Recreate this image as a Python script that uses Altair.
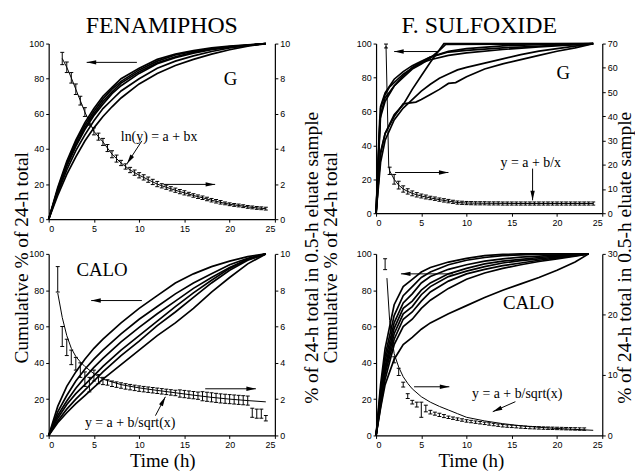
import math
import altair as alt
import pandas as pd

SERIF = "Liberation Serif"
SANS = "Liberation Sans"
HEAD = "M0,0L-0.55,2.4L0.55,2.4Z"

# ---------------- FENAMIPHOS, G (top left) ----------------
TL_X = [0, 1, 2, 3, 4, 5, 6, 7, 8, 10, 12, 14, 16, 18, 20, 22, 24]
TL_CURVES = [
    [0, 18, 33, 45, 55, 63, 70, 75, 80, 86, 91, 94, 96, 97.5, 98.5, 99.3, 100],
    [0, 17, 32, 44, 53.5, 61.5, 68.5, 74, 78.5, 85, 90, 93.5, 95.5, 97, 98.3, 99.2, 100],
    [0, 16.5, 31, 42.5, 52, 60, 67, 72.5, 77.5, 84, 89, 92.5, 95, 97, 98, 99, 100],
    [0, 16, 30, 41.5, 51, 59, 65.5, 71.5, 76, 83, 88.5, 92, 94.5, 96.5, 98, 99, 100],
    [0, 15, 28, 39, 48, 56, 63, 68, 73, 80, 86, 90, 93, 95.5, 97.5, 99, 100],
    [0, 13.5, 25.5, 35.5, 44.5, 52, 58.5, 64, 69, 77, 83, 87.5, 91, 94, 96.5, 98.5, 100],
]
TL_T = [1.5, 2, 2.5, 3, 3.5, 4, 4.5, 5, 5.5, 6, 6.5, 7, 7.5, 8, 8.5, 9, 9.5, 10,
        10.5, 11, 11.5, 12, 12.5, 13, 13.5, 14, 14.5, 15, 15.5, 16, 16.5, 17, 17.5,
        18, 18.5, 19, 19.5, 20, 20.5, 21, 21.5, 22, 22.5, 23, 23.5, 24]
TL_MEAN = [9.15, 8.65, 8.05, 7.4, 6.75, 6.1, 5.55, 5.0, 4.7, 4.4, 4.05, 3.7, 3.45, 3.2,
           3.0, 2.8, 2.65, 2.5, 2.38, 2.25, 2.12, 2.0, 1.9, 1.82, 1.73, 1.65, 1.57, 1.5,
           1.43, 1.35, 1.28, 1.22, 1.15, 1.08, 1.02, 0.96, 0.9, 0.85, 0.81, 0.78, 0.74,
           0.7, 0.67, 0.64, 0.62, 0.6]
TL_ERR = [0.35, 0.3, 0.3, 0.3, 0.25, 0.25, 0.2, 0.2, 0.2, 0.2, 0.2, 0.2, 0.2, 0.15, 0.15,
          0.15, 0.15, 0.15, 0.15, 0.15, 0.15, 0.15, 0.12, 0.12, 0.12, 0.12, 0.12, 0.12,
          0.1, 0.1, 0.1, 0.1, 0.1, 0.1, 0.1, 0.1, 0.08, 0.08, 0.08, 0.08, 0.08, 0.08,
          0.08, 0.08, 0.08, 0.08]

# ---------------- F. SULFOXIDE, G (top right) ----------------
TR_CURVES = [
    ([0, 0.5, 1, 2, 3, 4, 5, 6, 8, 10, 14, 18, 24],
     [0, 63, 71, 79, 83.5, 87, 89.5, 92, 95.5, 97, 98.6, 99.3, 100]),
    ([0, 0.5, 1, 1.5, 2, 3, 4, 5, 6, 8, 10, 14, 18, 24],
     [0, 62, 70, 74.5, 77, 82, 85.5, 88.5, 90.5, 93, 94.5, 96.5, 98, 100]),
    ([0, 0.5, 1, 2, 3, 4, 5, 6, 7, 7.7, 14, 24],
     [0, 58, 68, 75, 80, 85, 88, 91.5, 96, 99.5, 99.7, 100]),
    ([0, 0.5, 1, 2, 3, 4, 5, 6, 7.5, 24],
     [0, 35, 47, 58, 64, 73, 81, 89, 100, 100]),
    ([0, 0.5, 1, 2, 3, 4.4, 5, 6, 7, 8, 8.8, 10, 12, 14, 16, 18, 20, 22, 24],
     [0, 36, 47, 57, 64.5, 65.5, 67, 70, 73, 76.5, 77, 80.5, 85, 88, 90.5, 93, 95.5, 97.5, 100]),
    ([0, 0.5, 1, 2, 3, 4, 5, 6, 7, 8, 9, 10, 12, 14, 16, 18, 20, 22, 24],
     [0, 30, 43, 55, 62, 67, 72, 76, 79.5, 82, 84.5, 86, 88.5, 91, 93.5, 95.5, 97, 98.5, 100]),
    ([0, 0.4, 1, 2, 3, 4, 5, 6, 8, 10, 14, 20, 24],
     [0, 55, 66, 75, 81, 86, 89, 92, 95, 96, 97.5, 99, 100]),
]
TR_FIT_T = [1.1, 1.4, 1.5, 2, 2.5, 3, 3.5, 4, 4.5, 5, 5.5, 6, 7, 8, 9, 10, 12, 14, 16, 18, 20, 22, 24]
TR_FIT_R = [69, 19.5, 17.5, 14, 11.6, 10, 9, 8.2, 7.6, 7.1, 6.7, 6.3, 5.6, 5.0, 4.4, 4.2, 4.1,
            4.05, 4.0, 4.0, 4.0, 4.0, 4.0]
TR_T = [1.1, 1.5, 2, 2.5, 3, 3.5, 4, 4.5, 5, 5.5, 6, 6.5, 7, 7.5, 8, 8.5, 9, 9.5, 10,
        10.5, 11, 11.5, 12, 12.5, 13, 13.5, 14, 14.5, 15, 15.5, 16, 16.5, 17, 17.5,
        18, 18.5, 19, 19.5, 20, 20.5, 21, 21.5, 22, 22.5, 23, 23.5, 24]
TR_MEAN = [69, 17.5, 14, 11.6, 10, 9, 8.2, 7.6, 7.1, 6.7, 6.3, 6.0, 5.6, 5.3, 5.0, 4.7, 4.4,
           4.3, 4.2, 4.15, 4.1, 4.1, 4.1, 4.05, 4.05, 4.05, 4.0, 4.0, 4.0, 4.0, 4.0, 4.0,
           4.0, 4.0, 4.0, 4.0, 4.0, 4.0, 4.0, 4.0, 4.0, 4.0, 4.0, 4.0, 4.0, 4.0, 4.0]
TR_ERR = [0.8, 1.5, 2.0, 1.6, 1.3, 1.1, 1.0, 0.9, 0.8, 0.8, 0.7, 0.7, 0.7, 0.7, 0.7, 0.65,
          0.65, 0.65, 0.65, 0.65, 0.65, 0.65, 0.65, 0.65, 0.65, 0.65, 0.65, 0.65, 0.65,
          0.65, 0.65, 0.65, 0.65, 0.65, 0.65, 0.65, 0.65, 0.65, 0.65, 0.65, 0.65, 0.65,
          0.65, 0.65, 0.65, 0.65, 0.65]

# ---------------- FENAMIPHOS, CALO (bottom left) ----------------
BL_X = [0, 1, 2, 3, 4, 5, 6, 8, 10, 12, 14, 16, 18, 20, 22, 24]
BL_CURVES = [
    [0, 16, 27, 35, 42, 48, 53, 62, 70, 77, 84, 89, 93, 96, 98.5, 100],
    [0, 13, 22, 30, 36.5, 42, 47, 56, 64, 71, 78, 84, 89, 94, 97.5, 100],
    [0, 11, 19, 26, 32, 37.5, 42.5, 51.5, 59.5, 67, 74, 81, 87, 92.5, 97, 100],
    [0, 9.5, 17, 23, 28, 33, 38, 47, 55, 63, 71, 78.5, 85.5, 92, 97, 100],
    [0, 8, 14.5, 20, 25, 30, 35, 44, 52, 60.5, 68, 76, 84, 91, 96.5, 100],
    [0, 7, 12.5, 17.5, 22, 26.5, 31, 39, 47, 55, 62, 70, 79, 87, 94.5, 100],
]
BL_FIT_T = [1, 1.5, 2, 2.5, 3, 3.5, 4, 5, 6, 7, 8, 10, 12, 14, 16, 18, 20, 22, 24]
BL_FIT_R = [7.85, 6.5, 5.5, 4.8, 4.35, 4.05, 3.8, 3.4, 3.1, 2.95, 2.8, 2.62, 2.48, 2.35,
            2.22, 2.1, 2.0, 1.92, 1.85]
BL_T = [1, 1.5, 2, 2.5, 3, 3.5, 4, 4.5, 5, 5.5, 6, 6.5, 7, 7.5, 8, 8.5, 9, 9.5, 10,
        10.5, 11, 11.5, 12, 12.5, 13, 13.5, 14, 14.5, 15, 15.5, 16, 16.5, 17, 17.5,
        18, 18.5, 19, 19.5, 20, 20.5, 21, 21.5, 22, 22.5, 23, 23.5, 24]
BL_MEAN = [8.6, 5.45, 4.85, 4.3, 3.95, 3.6, 3.1, 2.8, 3.3, 3.1, 3.0, 2.92, 2.85, 2.8, 2.75,
           2.7, 2.66, 2.62, 2.58, 2.55, 2.52, 2.49, 2.46, 2.43, 2.4, 2.37, 2.34, 2.31,
           2.28, 2.25, 2.22, 2.19, 2.16, 2.13, 2.1, 2.07, 2.04, 2.02, 2.0, 1.98, 1.96,
           1.94, 1.92, 1.25, 1.2, 1.2, 0.95]
BL_ERR = [0.7, 0.55, 0.45, 0.4, 0.35, 0.4, 0.4, 0.4, 0.3, 0.25, 0.2, 0.15, 0.15, 0.15,
          0.15, 0.15, 0.15, 0.15, 0.15, 0.15, 0.15, 0.15, 0.15, 0.15, 0.15, 0.15, 0.15,
          0.2, 0.2, 0.2, 0.2, 0.2, 0.25, 0.25, 0.25, 0.25, 0.25, 0.25, 0.25, 0.25, 0.25,
          0.25, 0.25, 0.25, 0.25, 0.25, 0.15]

# ---------------- F. SULFOXIDE, CALO (bottom right) ----------------
BR_X = [0, 0.5, 1, 2, 3, 4, 5, 6, 8, 10, 12, 14, 16, 18, 20, 22, 23.5]
BR_CURVES = [
    [0, 28, 48, 72, 82, 86, 90, 92.5, 95.5, 97.5, 99, 99.7, 100, 100, 100, 100, 100],
    [0, 25, 44, 66, 77, 82, 87, 90, 94, 96.5, 98, 99, 99.5, 99.8, 100, 100, 100],
    [0, 22, 41, 62, 73, 78, 84, 87.5, 91.5, 94, 96, 97.3, 98.2, 98.8, 99.3, 99.7, 100],
    [0, 20, 38, 59, 70, 74, 80, 84, 89, 92, 94.5, 96, 97, 98, 98.8, 99.5, 100],
    [0, 19, 36, 56, 67, 71, 77.5, 82, 87.5, 90.5, 93, 95, 96.3, 97.3, 98.3, 99.2, 100],
    [0, 18, 34, 53, 64, 68, 74, 79, 85, 89, 91.5, 93.5, 95, 96.5, 97.8, 99, 100],
    [0, 16, 31, 50, 60, 64, 70, 74.5, 81, 86, 89.5, 92, 94, 95.8, 97.3, 98.8, 100],
    [0, 15, 28, 42, 50, 54, 58.5, 62, 67, 71.5, 76, 80, 83.5, 87, 91, 95.5, 100],
]
BR_FIT_T = [1.2, 1.5, 2, 2.5, 3, 3.5, 4, 5, 6, 7, 8, 9, 10, 12, 14, 16, 18, 20, 22, 24]
BR_FIT_R = [26, 19, 13.5, 11.3, 9.7, 8.6, 7.7, 6.4, 5.5, 4.8, 4.2, 3.6, 3.0, 2.4, 1.95,
            1.6, 1.35, 1.15, 1.0, 0.85]
BR_T = [1, 2, 2.5, 3, 3.5, 4, 4.5, 5, 5.5, 6, 6.5, 7, 7.5, 8, 8.5, 9, 9.5, 10, 10.5, 11,
        11.5, 12, 12.5, 13, 13.5, 14, 14.5, 15, 15.5, 16, 16.5, 17, 17.5, 18, 18.5, 19,
        19.5, 20, 20.5, 21, 21.5, 22, 22.5, 23]
BR_MEAN = [28.3, 12.5, 10.5, 8.4, 6.5, 5.5, 5.1, 4.25, 4.45, 3.85, 3.6, 3.4, 3.2, 3.0,
           2.85, 2.7, 2.55, 2.4, 2.3, 2.2, 2.1, 2.0, 1.9, 1.8, 1.7, 1.6, 1.55, 1.5, 1.45,
           1.4, 1.35, 1.3, 1.28, 1.25, 1.22, 1.2, 1.18, 1.16, 1.14, 1.12, 1.1, 1.08, 1.06,
           1.05]
BR_ERR = [0.9, 0.5, 0.6, 0.4, 0.4, 0.3, 0.4, 1.25, 0.55, 0.3, 0.25, 0.25, 0.25, 0.2, 0.2,
          0.2, 0.2, 0.2, 0.2, 0.2, 0.2, 0.2, 0.2, 0.2, 0.2, 0.2, 0.2, 0.2, 0.2, 0.2, 0.2,
          0.2, 0.2, 0.2, 0.2, 0.2, 0.2, 0.2, 0.2, 0.2, 0.2, 0.2, 0.2, 0.2]

PANEL_W = 228


def axis_style(**kw):
    base = dict(title=None, grid=False, tickSize=3, labelFont=SANS, labelFontSize=9,
                labelColor="black", domainColor="black", tickColor="black",
                domainWidth=1.2, tickWidth=1, labelPadding=2, format="d")
    base.update(kw)
    return alt.Axis(**base)


def one_row():
    return pd.DataFrame({"a": [0]})


def build_panel(w, h, rmax, rvals, curves, fit_t, fit_r, bar_t, bar_m, bar_e,
                arrows, notes, overlays, anchor=False):
    xa = axis_style(values=[0, 5, 10, 15, 20, 25])
    xsc = alt.Scale(domain=[0, 25], nice=False, zero=False)
    ysc = alt.Scale(domain=[0, 100], nice=False)
    rsc = alt.Scale(domain=[0, rmax], nice=False)
    yax = axis_style(values=[0, 20, 40, 60, 80, 100], orient="left")
    rax = axis_style(values=rvals, orient="right")

    def X(f="t"):
        return alt.X(f + ":Q", scale=xsc, axis=xa)

    def Y(f="v"):
        return alt.Y(f + ":Q", scale=ysc, axis=yax)

    def R(f="r"):
        return alt.Y(f + ":Q", scale=rsc, axis=rax)

    rows = []
    for i, (cx, cy) in enumerate(curves):
        for a, b in zip(cx, cy):
            rows.append({"c": i, "t": a, "v": b})
    cdf = pd.DataFrame(rows)
    left = [alt.Chart(cdf).mark_line(color="black", strokeWidth=1.7).encode(
        x=X(), y=Y(), detail="c:N")]

    adf = pd.DataFrame([{"t": a[0], "v": a[1], "t2": a[2], "v2": a[3],
                         "ang": math.degrees(math.atan2((a[2] - a[0]) * w / 25.0,
                                                        (a[3] - a[1]) * h / 100.0)) % 360}
                        for a in arrows])
    left.append(alt.Chart(adf).mark_rule(color="black", strokeWidth=1).encode(
        x=X(), x2="t2:Q", y=Y(), y2="v2:Q"))
    left.append(alt.Chart(adf).mark_point(shape=HEAD, filled=True, color="black",
                                          opacity=1, size=64, strokeWidth=0).encode(
        x=X("t2"), y=Y("v2"), angle=alt.Angle("ang:Q", scale=None)))

    for (t, v, label, fs) in notes:
        ndf = pd.DataFrame({"t": [t], "v": [v]})
        left.append(alt.Chart(ndf).mark_text(text=label, font=SERIF, fontSize=fs,
                                             color="black", baseline="middle",
                                             align="center").encode(x=X(), y=Y()))

    for (px, py, label, fs, ang, base) in overlays:
        left.append(alt.Chart(one_row()).mark_text(text=label, font=SERIF, fontSize=fs,
                                                   color="black", angle=ang, align="center",
                                                   baseline=base).encode(
            x=alt.value(px), y=alt.value(py)))
    if anchor:
        left.append(alt.Chart(one_row()).mark_rule(strokeOpacity=0).encode(
            x=alt.value(-41), y=alt.value(-34), y2=alt.value(-30)))

    fdf = pd.DataFrame({"t": fit_t, "r": fit_r})
    bdf = pd.DataFrame([{"t": a, "lo": m - e, "hi": m + e}
                        for a, m, e in zip(bar_t, bar_m, bar_e)])
    capdf = pd.DataFrame([{"t": a, "r": m - e} for a, m, e in zip(bar_t, bar_m, bar_e)] +
                         [{"t": a, "r": m + e} for a, m, e in zip(bar_t, bar_m, bar_e)])
    right = [
        alt.Chart(fdf).mark_line(color="black", strokeWidth=1).encode(x=X(), y=R()),
        alt.Chart(bdf).mark_rule(color="black", strokeWidth=1).encode(
            x=X(), y=R("lo"), y2="hi:Q"),
        alt.Chart(capdf).mark_tick(color="black", orient="horizontal", size=4,
                                   thickness=1, opacity=1).encode(x=X(), y=R()),
    ]
    return alt.layer(alt.layer(*left), alt.layer(*right)).resolve_scale(
        y="independent").properties(width=w, height=h)


TITLE_Y = "Cumulative % of 24-h total"
TITLE_R = "% of 24-h total in 0.5-h eluate sample"

tl = build_panel(
    PANEL_W, 177, 10, [0, 2, 4, 6, 8, 10],
    [(TL_X, c) for c in TL_CURVES], TL_T, TL_MEAN, TL_T, TL_MEAN, TL_ERR,
    arrows=[(9.75, 89.3, 4.2, 89.3), (12.7, 19.8, 18.4, 19.8), (10.3, 44.6, 8.66, 31.6)],
    notes=[(20.1, 80, "G", 19), (12.2, 47, "ln(y) = a + bx", 14)],
    overlays=[(114, -18, "FENAMIPHOS", 24, 0, "middle"),
              (-21, 216, TITLE_Y, 19.5, 270, "alphabetic"),
              (271, 216, TITLE_R, 19.5, 270, "alphabetic")],
    anchor=True,
)
tr = build_panel(
    PANEL_W, 171, 70, [0, 10, 20, 30, 40, 50, 60, 70],
    TR_CURVES, TR_FIT_T, TR_FIT_R, TR_T, TR_MEAN, TR_ERR,
    arrows=[(6.8, 95.3, 2.0, 95.3), (2.1, 24, 8.0, 24), (17.3, 26.3, 17.3, 7.6)],
    notes=[(20.7, 82.5, "G", 19), (17.1, 29.5, "y = a + b/x", 14)],
    overlays=[(104, -18, "F. SULFOXIDE", 24, 0, "middle"),
              (-39, 216, TITLE_Y, 19.5, 270, "alphabetic"),
              (257, 216, TITLE_R, 19.5, 270, "alphabetic")],
)
bl = build_panel(
    PANEL_W, 183, 10, [0, 2, 4, 6, 8, 10],
    [(BL_X, c) for c in BL_CURVES], BL_FIT_T, BL_FIT_R, BL_T, BL_MEAN, BL_ERR,
    arrows=[(10.3, 74.3, 4.7, 74.3), (17.3, 25.7, 22.9, 25.7), (11.8, 10.9, 12.9, 21.3)],
    notes=[(5.9, 91.3, "CALO", 19), (9.0, 6.6, "y = a + b/sqrt(x)", 14)],
    overlays=[(115, 209, "Time (h)", 19, 0, "middle")],
)
br = build_panel(
    PANEL_W, 183, 30, [0, 10, 20, 30],
    [(BR_X, c) for c in BR_CURVES], BR_FIT_T, BR_FIT_R, BR_T, BR_MEAN, BR_ERR,
    arrows=[(8.5, 89, 2.75, 89), (4.2, 26.8, 8.1, 26.8), (15.4, 18.6, 12.9, 13.1)],
    notes=[(16.85, 72.7, "CALO", 19), (15.6, 23, "y = a + b/sqrt(x)", 14)],
    overlays=[(96, 209, "Time (h)", 19, 0, "middle")],
)

chart = alt.concat(
    tl, tr, bl, br, columns=2, bounds="flush", align="each",
    spacing=alt.RowColnumber(row=35, column=102),
).properties(padding=0, background="white").configure_view(stroke=None)

chart.save("out.html", embed_options={"renderer": "svg", "actions": False})
